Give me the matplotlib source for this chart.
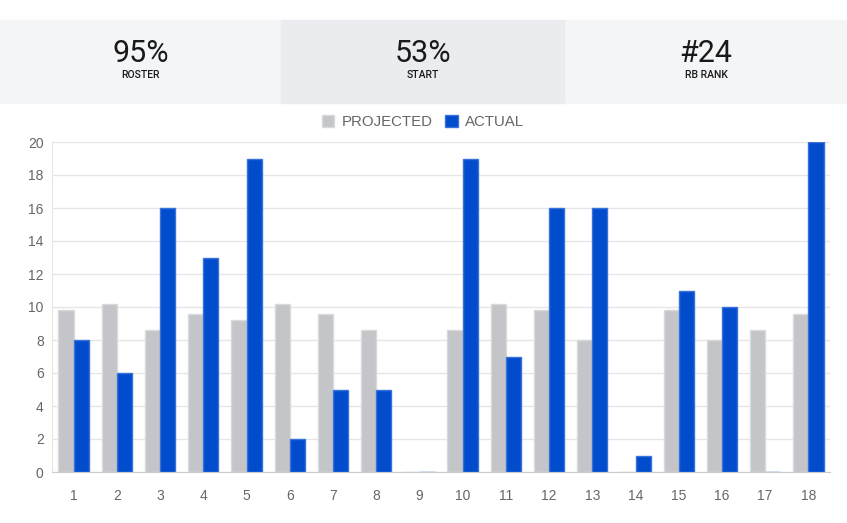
import matplotlib.pyplot as plt
import numpy as np
from matplotlib.patches import Rectangle

weeks = [str(i) for i in range(1, 19)]
projected = [9.8, 10.2, 8.6, 9.6, 9.2, 10.2, 9.6, 8.6, 0, 8.6, 10.2, 9.8, 8.0, 0, 9.8, 8.0, 8.6, 9.6]
actual = [8, 6, 16, 13, 19, 2, 5, 5, 0, 19, 7, 16, 16, 1, 11, 10, 0, 20]

stat_values = ['95%', '53%', '#24']
stat_labels = ['ROSTER', 'START', 'RB RANK']

W, H = 847, 523
fig = plt.figure(figsize=(W / 100, H / 100), dpi=100)
plt.rcParams['font.family'] = ['Liberation Sans', 'DejaVu Sans']

# header band with three stat boxes
edges = [0, 281, 565, 847]
box_colors = ['#f4f5f7', '#ebecef', '#f4f5f7']
for i in range(3):
    x0, x1 = edges[i] / W, edges[i + 1] / W
    fig.patches.append(Rectangle((x0, 1 - 103 / H), x1 - x0, 83 / H,
                                 transform=fig.transFigure, color=box_colors[i], zorder=0))
    cx = (x0 + x1) / 2
    fig.text(cx, 1 - 54 / H, stat_values[i], ha='center', va='center',
             fontsize=22, color='#1a1a1a', family='Roboto', fontweight='normal')
    fig.text(cx, 1 - 75 / H, stat_labels[i], ha='center', va='center',
             fontsize=7.5, color='#1a1a1a', family='Roboto', fontweight='medium')

ax = fig.add_axes([52 / W, 1 - 472 / H, (830 - 52) / W, (472 - 142) / H])

x = np.arange(len(weeks))
bw = 0.35
ax.bar(x - bw / 2, projected, bw, color='#c4c5c8', edgecolor='#d9dadc',
       linewidth=1, label='PROJECTED', zorder=3)
ax.bar(x + bw / 2, actual, bw, color='#004ccd', edgecolor='#3a72da',
       linewidth=1, label='ACTUAL', zorder=3)

ax.set_xlim(-0.5, len(weeks) - 0.5)
ax.set_ylim(0, 20)
ax.set_yticks(range(0, 21, 2))
ax.set_xticks(x)
ax.set_xticklabels(weeks)
ax.tick_params(axis='both', length=0, labelsize=10, colors='#666666')
ax.tick_params(axis='x', pad=12)
ax.tick_params(axis='y', pad=6)
ax.grid(axis='y', color='#e6e6e6', linewidth=1, zorder=0)
for s in ['top', 'right']:
    ax.spines[s].set_visible(False)
ax.spines['left'].set_color('#e6e6e6')
ax.spines['bottom'].set_color('#cccccc')
ax.spines['bottom'].set_zorder(4)

fig.legend(loc='center', bbox_to_anchor=(423 / W, 1 - 122 / H), ncol=2,
           frameon=False, fontsize=10.8, labelcolor='#666666',
           handlelength=0.85, handleheight=0.85, handletextpad=0.5, columnspacing=0.8)

plt.savefig('out.png', dpi=100)
